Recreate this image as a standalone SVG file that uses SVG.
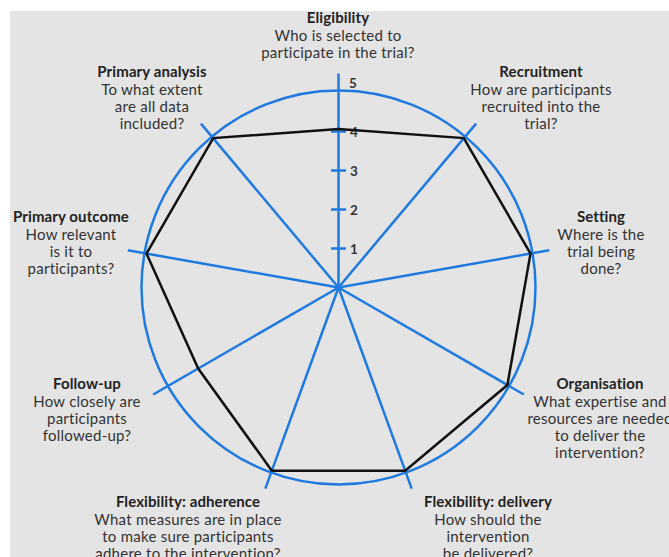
<svg xmlns="http://www.w3.org/2000/svg" width="669" height="557" viewBox="0 0 669 557">
<style>
.t{font-family:Lato,"Liberation Sans",sans-serif;font-size:15px;letter-spacing:0.25px;fill:#333;text-anchor:middle}
.b{font-weight:bold;fill:#222;letter-spacing:0.1px}
.n{font-family:Lato,"Liberation Sans",sans-serif;font-size:13.5px;font-weight:bold;fill:#333}
.sp{stroke:#1f7ae0;stroke-width:2.5;fill:none}
</style>
<rect x="0" y="0" width="669" height="557" fill="#ffffff"/>
<rect x="10" y="11" width="659" height="546" fill="#e4e4e4"/>
<circle cx="338.5" cy="287.5" r="197" fill="#ffffff" class="sp"/>
<g id="connectors">
<line class="sp" x1="338.5" y1="287.5" x2="338.5" y2="73.5"/>
<line class="sp" x1="338.5" y1="287.5" x2="476.1" y2="123.6"/>
<line class="sp" x1="338.5" y1="287.5" x2="549.2" y2="250.3"/>
<line class="sp" x1="338.5" y1="287.5" x2="523.8" y2="394.5"/>
<line class="sp" x1="338.5" y1="287.5" x2="411.7" y2="488.6"/>
<line class="sp" x1="338.5" y1="287.5" x2="265.3" y2="488.6"/>
<line class="sp" x1="338.5" y1="287.5" x2="153.2" y2="394.5"/>
<line class="sp" x1="338.5" y1="287.5" x2="127.8" y2="250.3"/>
<line class="sp" x1="338.5" y1="287.5" x2="200.9" y2="123.6"/>
<line class="sp" x1="331" y1="248.5" x2="346" y2="248.5"/>
<line class="sp" x1="331" y1="209.5" x2="346" y2="209.5"/>
<line class="sp" x1="331" y1="170.5" x2="346" y2="170.5"/>
<line class="sp" x1="331" y1="131.5" x2="346" y2="131.5"/>
</g>
<g id="scale">
<text class="n" x="350" y="253.5">1</text>
<text class="n" x="350" y="214.5">2</text>
<text class="n" x="350" y="175.5">3</text>
<text class="n" x="350" y="136.5">4</text>
<text class="n" x="349" y="88">5</text>
</g>
<polygon id="profile" points="338.5,129 463.8,138.1 530.5,253.6 507.4,385 405.2,470.7 271.8,470.7 198.2,368.5 146.5,253.6 213.2,138.1" fill="none" stroke="#111" stroke-width="2.5" stroke-linejoin="miter"/>
<g id="eligibility"><text class="t b" x="338" y="23">Eligibility</text><text class="t" x="338" y="41">Who is selected to</text><text class="t" x="338" y="58">participate in the trial?</text></g>
<g id="recruitment"><text class="t b" x="541" y="77">Recruitment</text><text class="t" x="541" y="95">How are participants</text><text class="t" x="541" y="112">recruited into the</text><text class="t" x="541" y="129">trial?</text></g>
<g id="setting"><text class="t b" x="601" y="222">Setting</text><text class="t" x="601" y="240">Where is the</text><text class="t" x="601" y="257">trial being</text><text class="t" x="601" y="274">done?</text></g>
<g id="organisation"><text class="t b" x="600" y="389">Organisation</text><text class="t" x="600" y="407">What expertise and</text><text class="t" x="600" y="424">resources are needed</text><text class="t" x="600" y="441">to deliver the</text><text class="t" x="600" y="458">intervention?</text></g>
<g id="flex-delivery"><text class="t b" x="488" y="507">Flexibility: delivery</text><text class="t" x="488" y="525">How should the</text><text class="t" x="488" y="542">intervention</text><text class="t" x="488" y="559">be delivered?</text></g>
<g id="flex-adherence"><text class="t b" x="188" y="507">Flexibility: adherence</text><text class="t" x="188" y="525">What measures are in place</text><text class="t" x="188" y="542">to make sure participants</text><text class="t" x="188" y="559">adhere to the intervention?</text></g>
<g id="follow-up"><text class="t b" x="87" y="389">Follow-up</text><text class="t" x="87" y="407">How closely are</text><text class="t" x="87" y="424">participants</text><text class="t" x="87" y="441">followed-up?</text></g>
<g id="primary-outcome"><text class="t b" x="71" y="222">Primary outcome</text><text class="t" x="71" y="240">How relevant</text><text class="t" x="71" y="257">is it to</text><text class="t" x="71" y="274">participants?</text></g>
<g id="primary-analysis"><text class="t b" x="152" y="77">Primary analysis</text><text class="t" x="152" y="95">To what extent</text><text class="t" x="152" y="112">are all data</text><text class="t" x="152" y="129">included?</text></g>
</svg>
